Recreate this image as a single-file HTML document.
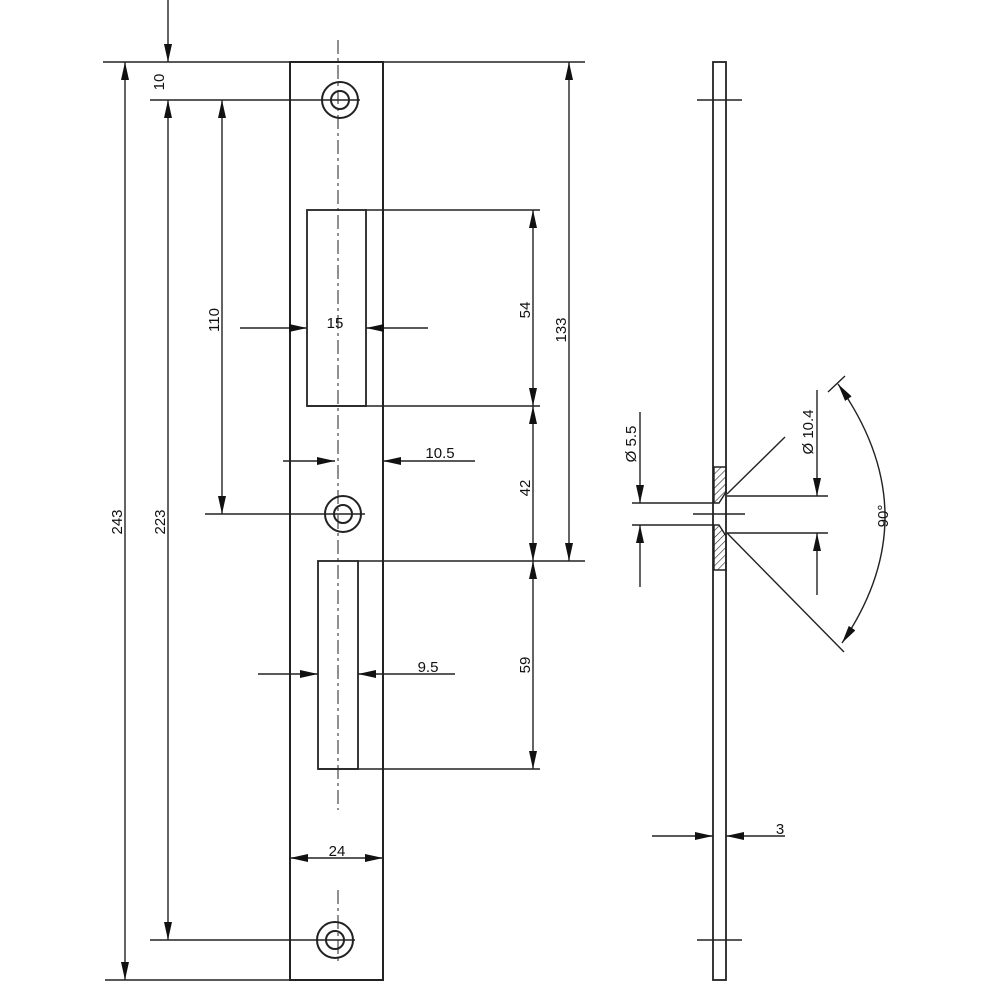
<!DOCTYPE html><html><head><style>body{margin:0;background:#fff}svg{display:block}text{font-family:"Liberation Sans",sans-serif;font-size:15px;fill:#111}</style></head><body>
<svg width="996" height="996" viewBox="0 0 996 996" xmlns="http://www.w3.org/2000/svg">
<defs>
<marker id="a" viewBox="0 0 18 8" refX="18" refY="4" markerWidth="18" markerHeight="8" markerUnits="userSpaceOnUse" orient="auto-start-reverse"><path d="M0,0 L18,4 L0,8z" fill="#111"/></marker>
<pattern id="h" width="5" height="5" patternUnits="userSpaceOnUse" patternTransform="rotate(45)"><line x1="0" y1="0" x2="0" y2="5" stroke="#222" stroke-width="1.2"/></pattern>
</defs>
<g stroke="#222" fill="none" stroke-width="1.4">
<rect x="290" y="62" width="93" height="918" stroke-width="2"/>
<line x1="338" y1="40" x2="338" y2="810" stroke-dasharray="14,4,3,4" stroke-width="1"/>
<line x1="338" y1="890" x2="338" y2="965" stroke-dasharray="14,4,3,4" stroke-width="1"/>
<circle cx="340" cy="100" r="18" stroke-width="2"/><circle cx="340" cy="100" r="9" stroke-width="2"/>
<circle cx="343" cy="514" r="18" stroke-width="2"/><circle cx="343" cy="514" r="9" stroke-width="2"/>
<circle cx="335" cy="940" r="18" stroke-width="2"/><circle cx="335" cy="940" r="9" stroke-width="2"/>
<rect x="307" y="210" width="59" height="196" stroke-width="1.8"/>
<rect x="318" y="561" width="40" height="208" stroke-width="1.8"/>
<line x1="103" y1="62" x2="585" y2="62"/>
<line x1="150" y1="100" x2="360" y2="100"/>
<line x1="205" y1="514" x2="365" y2="514"/>
<line x1="150" y1="940" x2="355" y2="940"/>
<line x1="105" y1="980" x2="290" y2="980"/>
<line x1="366" y1="210" x2="540" y2="210"/>
<line x1="307" y1="406" x2="540" y2="406"/>
<line x1="358" y1="561" x2="585" y2="561"/>
<line x1="318" y1="769" x2="540" y2="769"/>
<line x1="125" y1="62" x2="125" y2="980" marker-start="url(#a)" marker-end="url(#a)"/>
<line x1="168" y1="100" x2="168" y2="940" marker-start="url(#a)" marker-end="url(#a)"/>
<line x1="168" y1="0" x2="168" y2="62" marker-end="url(#a)"/>
<line x1="222" y1="100" x2="222" y2="514" marker-start="url(#a)" marker-end="url(#a)"/>
<line x1="533" y1="210" x2="533" y2="406" marker-start="url(#a)" marker-end="url(#a)"/>
<line x1="533" y1="406" x2="533" y2="561" marker-start="url(#a)" marker-end="url(#a)"/>
<line x1="533" y1="561" x2="533" y2="769" marker-start="url(#a)" marker-end="url(#a)"/>
<line x1="569" y1="62" x2="569" y2="561" marker-start="url(#a)" marker-end="url(#a)"/>
<line x1="240" y1="328" x2="307" y2="328" marker-end="url(#a)"/><line x1="428" y1="328" x2="366" y2="328" marker-end="url(#a)"/>
<line x1="283" y1="461" x2="335" y2="461" marker-end="url(#a)"/><line x1="475" y1="461" x2="383" y2="461" marker-end="url(#a)"/>
<line x1="258" y1="674" x2="318" y2="674" marker-end="url(#a)"/><line x1="455" y1="674" x2="358" y2="674" marker-end="url(#a)"/>
<line x1="290" y1="858" x2="383" y2="858" marker-start="url(#a)" marker-end="url(#a)"/>
<rect x="713" y="62" width="13" height="918" stroke-width="1.8"/>
<path d="M714,467 L726,467 L726,492 L719,503 L714,503z" fill="url(#h)"/>
<path d="M714,525 L719,525 L726,536 L726,570 L714,570z" fill="url(#h)"/>
<line x1="697" y1="100" x2="742" y2="100"/><line x1="697" y1="940" x2="742" y2="940"/>
<line x1="693" y1="514" x2="745" y2="514"/>
<line x1="632" y1="503" x2="713" y2="503"/><line x1="632" y1="525" x2="713" y2="525"/>
<line x1="640" y1="412" x2="640" y2="503" marker-end="url(#a)"/><line x1="640" y1="587" x2="640" y2="525" marker-end="url(#a)"/>
<line x1="727" y1="496" x2="828" y2="496"/><line x1="727" y1="533" x2="828" y2="533"/>
<line x1="817" y1="390" x2="817" y2="496" marker-end="url(#a)"/><line x1="817" y1="595" x2="817" y2="533" marker-end="url(#a)"/>
<line x1="727" y1="494" x2="785" y2="437"/>
<line x1="727" y1="533" x2="844" y2="652"/>
<line x1="828" y1="392" x2="845" y2="376"/>
<path d="M838,384 Q930,514 842,643" marker-start="url(#a)" marker-end="url(#a)"/>
<line x1="652" y1="836" x2="713" y2="836" marker-end="url(#a)"/><line x1="785" y1="836" x2="726" y2="836" marker-end="url(#a)"/>
</g>
<g>
<text transform="translate(164,82) rotate(-90)" text-anchor="middle">10</text>
<text transform="translate(122,522) rotate(-90)" text-anchor="middle">243</text>
<text transform="translate(165,522) rotate(-90)" text-anchor="middle">223</text>
<text transform="translate(219,320) rotate(-90)" text-anchor="middle">110</text>
<text transform="translate(530,310) rotate(-90)" text-anchor="middle">54</text>
<text transform="translate(530,488) rotate(-90)" text-anchor="middle">42</text>
<text transform="translate(530,665) rotate(-90)" text-anchor="middle">59</text>
<text transform="translate(566,330) rotate(-90)" text-anchor="middle">133</text>
<text x="335" y="328" text-anchor="middle">15</text>
<text x="440" y="458" text-anchor="middle">10.5</text>
<text x="428" y="672" text-anchor="middle">9.5</text>
<text x="337" y="856" text-anchor="middle">24</text>
<text x="780" y="834" text-anchor="middle">3</text>
<text transform="translate(636,444) rotate(-90)" text-anchor="middle">Ø 5.5</text>
<text transform="translate(813,432) rotate(-90)" text-anchor="middle">Ø 10.4</text>
<text transform="translate(888,516) rotate(-90)" text-anchor="middle">90°</text>
</g>
</svg>
</body></html>
